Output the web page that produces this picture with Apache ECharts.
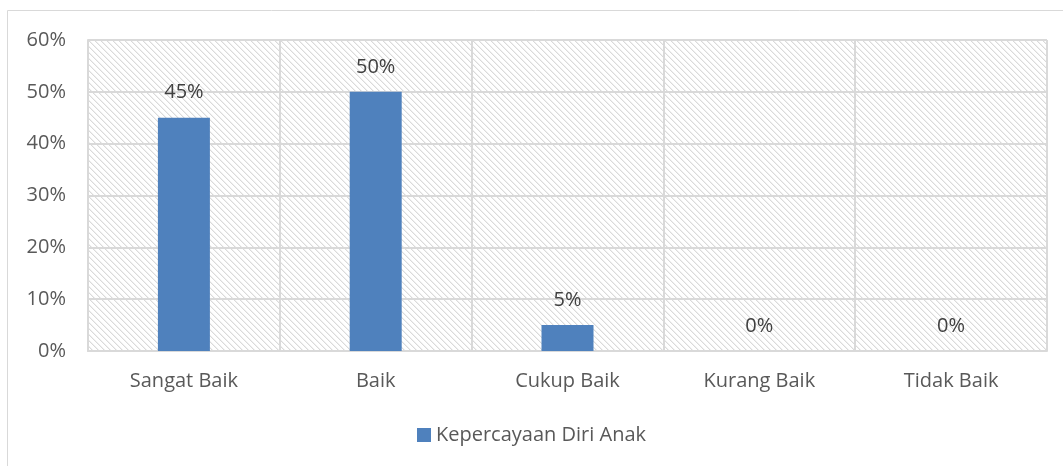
<!DOCTYPE html>
<html>
<head>
<meta charset="utf-8">
<script src="https://cdn.jsdelivr.net/npm/echarts@6/dist/echarts.min.js"></script>
<style>
  html, body { margin: 0; padding: 0; background: #fff; }
  #chart { width: 1063px; height: 466px; }
</style>
</head>
<body>
<div id="chart"></div>
<script>
var categories = ['Sangat Baik', 'Baik', 'Cukup Baik', 'Kurang Baik', 'Tidak Baik'];
var values = [0.45, 0.50, 0.05, 0, 0];
var seriesName = 'Kepercayaan Diri Anak';

// hatch background for the plot area
function makeHatch() {
    var n = 6;
    var c = document.createElement('canvas');
    c.width = n; c.height = n;
    var ctx = c.getContext('2d');
    ctx.fillStyle = '#ffffff';
    ctx.fillRect(0, 0, n, n);
    for (var i = 0; i < n; i++) {
        ctx.fillStyle = '#dadada';
        ctx.fillRect(i, i, 1, 1);
        ctx.fillStyle = '#f0f0f0';
        ctx.fillRect((i + 1) % n, i, 1, 1);
    }
    return c;
}

var chart = echarts.init(document.getElementById('chart'));
var font = '"Open Sans", "Liberation Sans", sans-serif';

chart.setOption({
    animation: false,
    textStyle: { fontFamily: font },
    graphic: [{
        type: 'rect',
        shape: { x: 7.5, y: 10.5, width: 1070, height: 470 },
        style: { fill: 'none', stroke: '#d9d9d9', lineWidth: 1 },
        silent: true
    }],
    grid: {
        left: 88, right: 16, top: 40, bottom: 115,
        show: true,
        borderWidth: 0,
        backgroundColor: { image: makeHatch(), repeat: 'repeat' }
    },
    legend: {
        data: [seriesName],
        bottom: 16,
        left: 'center',
        itemWidth: 14,
        itemHeight: 14,
        itemGap: 6,
        icon: 'rect',
        textStyle: { fontSize: 20, color: '#595959', fontFamily: font }
    },
    xAxis: {
        type: 'category',
        data: categories,
        axisLine: { lineStyle: { color: '#d9d9d9', width: 2 } },
        axisTick: { show: false },
        axisLabel: { fontSize: 20, color: '#595959', margin: 20 },
        splitLine: { show: true, lineStyle: { color: '#d9d9d9', width: 2 } }
    },
    yAxis: {
        type: 'value',
        min: 0, max: 0.6, interval: 0.1,
        axisLine: { show: true, lineStyle: { color: '#d9d9d9', width: 2 } },
        axisTick: { show: false },
        axisLabel: {
            fontSize: 20, color: '#595959', margin: 22,
            formatter: function (v) { return Math.round(v * 100) + '%'; }
        },
        splitLine: { lineStyle: { color: '#d9d9d9', width: 2 } }
    },
    series: [{
        name: seriesName,
        type: 'bar',
        data: values,
        barWidth: 52,
        itemStyle: { color: '#4f81bd' },
        label: {
            show: true,
            position: 'top',
            distance: 15,
            fontSize: 20,
            color: '#404040',
            formatter: function (p) { return Math.round(p.value * 100) + '%'; }
        }
    }]
});
</script>
</body>
</html>
